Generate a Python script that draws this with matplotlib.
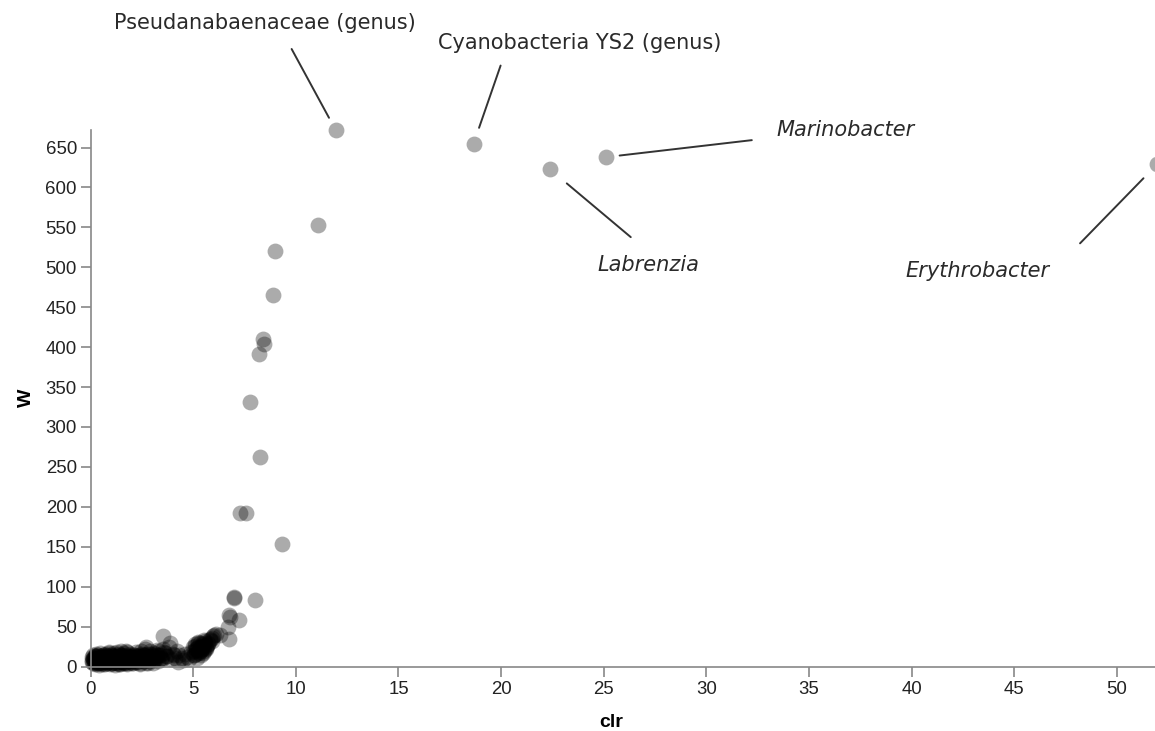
import matplotlib.pyplot as plt

# low-abundance taxa, the dense blob near the origin
clr_low = [0.05, 0.08, 0.1, 0.12, 0.15, 0.18, 0.2, 0.22, 0.25, 0.28, 0.3, 0.33, 0.35, 0.38,
           0.4, 0.42, 0.45, 0.48, 0.5, 0.52, 0.55, 0.58, 0.6, 0.63, 0.65, 0.68, 0.7, 0.72,
           0.75, 0.78, 0.8, 0.83, 0.85, 0.88, 0.9, 0.93, 0.95, 0.98, 1.0, 1.03, 1.05, 1.08,
           1.1, 1.13, 1.15, 1.18, 1.2, 1.23, 1.25, 1.28, 1.3, 1.33, 1.35, 1.38, 1.4, 1.43,
           1.45, 1.48, 1.5, 1.53, 1.55, 1.58, 1.6, 1.63, 1.65, 1.68, 1.7, 1.73, 1.75, 1.78,
           1.8, 1.83, 1.85, 1.88, 1.9, 1.95, 2.0, 2.05, 2.1, 2.15, 2.2, 2.25, 2.3, 2.35,
           2.4, 2.45, 2.5, 2.55, 2.6, 2.65, 2.7, 2.75, 2.8, 2.85, 2.9, 2.95, 3.0, 3.05,
           3.1, 3.15, 3.2, 3.25, 3.3, 3.4, 3.5, 3.6, 3.7, 3.8, 3.9, 4.0, 4.1, 4.2,
           4.3, 4.5, 4.7, 4.9, 5.0, 5.05, 5.1, 5.15, 5.2, 5.25, 5.3, 5.35, 5.4, 5.45,
           5.5, 5.55, 5.6, 5.65, 5.7, 5.8, 5.9, 6.0, 3.55, 3.85, 6.3, 2.7, 1.75, 0.9,
           0.07, 0.14, 0.21, 0.27, 0.34, 0.41, 0.47, 0.54, 0.61, 0.67, 0.74, 0.81, 0.87, 0.94,
           1.01, 1.07, 1.14, 1.21, 1.27, 1.34, 1.41, 1.47, 1.54, 1.61, 1.67, 1.74, 1.81, 1.87,
           1.94, 2.02, 2.12, 2.22, 2.32, 2.42, 2.52, 2.62, 2.72, 2.82, 2.92, 3.02, 3.12, 3.22,
           0.15, 0.25, 0.35, 0.45, 0.55, 0.65, 0.75, 0.85, 0.95, 1.05, 1.15, 1.25, 1.35, 1.45,
           1.55, 1.65, 1.75, 1.85, 1.95, 2.08, 2.18, 2.28, 2.38, 2.48, 2.58, 2.68, 2.78, 2.88,
           5.02, 5.08, 5.12, 5.18, 5.22, 5.28, 5.32, 5.38, 5.42, 5.48, 5.52, 5.58, 5.62, 5.68,
           5.04, 5.14, 5.24, 5.34, 5.44, 5.54, 5.64, 5.74, 5.84, 5.94, 3.35, 3.45, 3.65, 3.75,
           0.1, 0.3, 0.5, 0.7, 0.9, 1.1, 1.3, 1.5, 1.7, 1.9, 2.1, 2.3, 2.5, 2.7,
           0.2, 0.4, 0.6, 0.8, 1.0, 1.2, 1.4, 1.6, 1.8, 2.0, 2.2, 2.4, 2.6, 2.8,
           2.95, 3.05, 3.15, 3.25, 3.35, 3.45, 3.55, 4.05, 4.25, 4.45, 4.6, 4.8, 5.95, 6.1]
W_low = [8, 12, 4, 15, 9, 6, 13, 3, 10, 16, 7, 12, 5, 14,
         9, 2, 11, 17, 6, 13, 8, 4, 15, 10, 7, 12, 3, 16,
         9, 5, 13, 11, 6, 18, 8, 3, 14, 10, 7, 15, 4, 12,
         9, 17, 6, 11, 2, 14, 8, 18, 10, 5, 13, 7, 16, 3,
         11, 9, 19, 6, 14, 4, 12, 17, 8, 10, 5, 15, 11, 3,
         18, 7, 13, 9, 16, 6, 12, 4, 15, 9, 18, 6, 11, 14,
         3, 20, 8, 13, 10, 22, 5, 16, 12, 7, 19, 10, 14, 4,
         17, 9, 12, 21, 7, 15, 10, 18, 13, 24, 9, 16, 11, 19,
         14, 8, 12, 18, 24, 15, 28, 20, 11, 25, 17, 30, 14, 22,
         26, 19, 32, 23, 28, 33, 36, 40, 38, 30, 40, 25, 19, 17,
         6, 10, 13, 7, 11, 5, 9, 12, 8, 6, 10, 13, 7, 9,
         11, 7, 9, 12, 6, 10, 8, 13, 7, 11, 9, 6, 12, 8,
         10, 7, 12, 9, 13, 8, 11, 14, 9, 12, 16, 10, 13, 15,
         9, 7, 10, 8, 11, 9, 7, 10, 12, 8, 10, 9, 11, 7,
         10, 8, 11, 9, 12, 7, 10, 13, 8, 11, 14, 9, 12, 10,
         20, 26, 16, 23, 29, 18, 25, 21, 28, 17, 24, 30, 22, 27,
         14, 22, 31, 19, 26, 33, 24, 29, 35, 32, 15, 11, 17, 13,
         11, 13, 12, 14, 11, 13, 12, 14, 11, 13, 15, 12, 16, 14,
         4, 5, 3, 6, 4, 5, 3, 6, 4, 5, 6, 4, 7, 5,
         12, 8, 16, 11, 19, 9, 22, 14, 6, 11, 16, 9, 38, 41]

# taxa along the rising arm
clr_mid = [6.68, 6.73, 6.74, 6.78, 6.97, 7.0, 7.21, 7.99, 9.31, 7.3, 7.55, 8.28, 7.75,
           8.19, 8.43, 8.38, 8.87, 9.0, 11.1]
W_mid = [49, 34, 64, 62, 86, 87, 58, 83, 153, 192, 192, 262, 331, 391, 404, 410, 465, 520, 553]

# labelled genera
labels = ["Pseudanabaenaceae (genus)", "Cyanobacteria YS2 (genus)", "Marinobacter",
          "Labrenzia", "Erythrobacter"]
clr_top = [11.94, 18.66, 25.1, 22.37, 51.95]
W_top = [672, 655, 638, 623, 629]
italic = [False, False, True, True, True]

# label placement in pixels relative to the point: text centre, line far end, gap at point
text_off = [(-71, 107), (106, 101), (240, 27), (99, -96), (-180, -107)]
line_off = [(-44, 81), (27, 78), (146, 17), (81, -68), (-77, -79)]
gap = [10, 12, 10, 16, 14]

fig = plt.figure(figsize=(11.55, 7.31), dpi=100)
ax = fig.add_axes([90.5 / 1155, 1 - 666.5 / 731, 1 - 90.5 / 1155, (666.5 - 130) / 731])

xs = clr_low + clr_mid + clr_top
ys = W_low + W_mid + W_top
ax.scatter(xs, ys, s=130, c="black", alpha=0.33, linewidths=0, clip_on=False)

for i, name in enumerate(labels):
    ax.annotate("", xy=(clr_top[i], W_top[i]), xytext=line_off[i], textcoords="offset pixels",
                arrowprops=dict(arrowstyle="-", color="#333333", lw=1.4, shrinkA=0, shrinkB=gap[i]),
                annotation_clip=False)
    ax.annotate(name, xy=(clr_top[i], W_top[i]), xytext=text_off[i], textcoords="offset pixels",
                ha="center", va="center", fontsize=15, family="DejaVu Sans",
                style="italic" if italic[i] else "normal", color="#2a2a2a",
                annotation_clip=False)

ax.set_xlim(0, 51.85)
ax.set_ylim(0, 672)
ax.set_xticks(range(0, 51, 5))
ax.set_yticks(range(0, 651, 50))
for side in ["top", "right"]:
    ax.spines[side].set_visible(False)
for side in ["left", "bottom"]:
    ax.spines[side].set_color("#888888")
    ax.spines[side].set_linewidth(1.2)
ax.tick_params(colors="#888888", length=7.2, width=1.2, labelcolor="#222222",
               labelsize=13.4)
ax.tick_params(axis="y", pad=2.6)
ax.tick_params(axis="x", pad=3.5)
for lab in ax.get_xticklabels() + ax.get_yticklabels():
    lab.set_family("Liberation Sans")

ax.set_xlabel("clr", fontsize=14, fontweight="bold", family="Liberation Sans")
ax.set_ylabel("W", fontsize=14, fontweight="bold", family="Liberation Sans")
ax.xaxis.set_label_coords(0.489, -0.088)
ax.yaxis.set_label_coords(-0.052, 0.5)

fig.savefig("out.png", dpi=100)
